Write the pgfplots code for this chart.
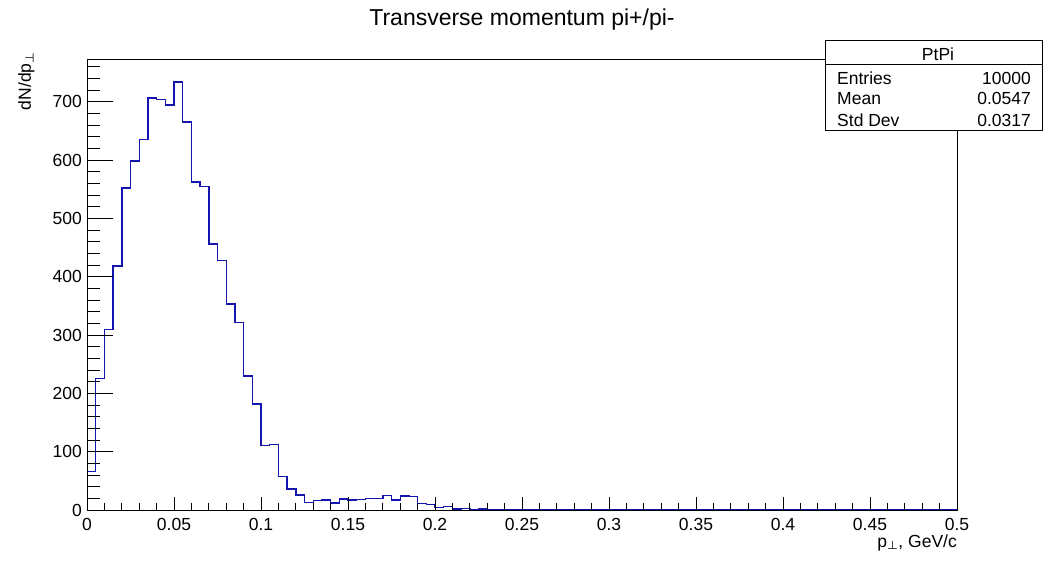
\documentclass[border=0pt]{standalone}
\usepackage{amsmath}
\usepackage{fontspec}
\setmainfont{Liberation Sans}
\usepackage{pgfplots}
\pgfplotsset{compat=1.18}
\definecolor{histblue}{RGB}{20,20,175}
\newcommand{\lab}{\fontsize{17.5}{20}\selectfont}

\pgfplotsset{rootframe/.style={
  at={(87pt,50pt)}, anchor=south west,
  scale only axis, width=870pt, height=450pt,
  xmin=0, xmax=0.5, ymin=0, ymax=771.5,
  tick align=inside,
  tick style={black, line width=1pt},
  axis line style={line width=1pt},
  ticklabel style={font=\lab},
  /pgf/number format/assume math mode=true,
}}

\begin{document}
\begin{tikzpicture}
\useasboundingbox (0pt,0pt) rectangle (1043pt,560pt);

% histogram, frame and x ticks
\begin{axis}[rootframe,
  axis on top,
  xtick={0,0.05,0.1,0.15,0.2,0.25,0.3,0.35,0.4,0.45,0.5},
  xticklabels={0,0.05,0.1,0.15,0.2,0.25,0.3,0.35,0.4,0.45,0.5},
  minor x tick num=4,
  xtick pos=bottom,
  ytick=\empty,
  major tick length=13pt, minor tick length=7pt,
  xticklabel style={anchor=north, inner sep=0pt, yshift=-8pt},
  title={Transverse momentum pi+/pi-},
  title style={font=\fontsize{23}{26}\selectfont, at={(axis description cs:0.5,1)}, anchor=base, inner sep=0pt, yshift=28pt},
  xlabel={p$_{\boldsymbol{\perp}}$, GeV/c},
  xlabel style={font=\lab, at={(axis description cs:1,0)}, anchor=base east, inner sep=0pt, yshift=-37pt},
  ylabel={dN/dp$_{\boldsymbol{\perp}}$},
  ylabel style={font=\lab, at={(axis description cs:-0.0644,1.0178)}, anchor=base east, inner sep=0pt},
]
\addplot[const plot, color=histblue, line width=1.4pt, line join=miter] coordinates {
  (0,0)(0,66)(0.005,225)(0.01,309)(0.015,418)(0.02,552)(0.025,598)(0.03,635)
  (0.035,706)(0.04,704)(0.045,694)(0.05,734)(0.055,665)(0.06,562)(0.065,555)
  (0.07,456)(0.075,428)(0.08,353)(0.085,321)(0.09,230)(0.095,182)(0.1,111)
  (0.105,112)(0.11,57)(0.115,36)(0.12,26)(0.125,13)(0.13,16)(0.135,17)
  (0.14,12)(0.145,19)(0.15,17)(0.155,18)(0.16,20)(0.165,20)(0.17,25)
  (0.175,17)(0.18,24)(0.185,23)(0.19,11)(0.195,9)(0.2,4)(0.205,6)
  (0.21,2)(0.215,3)(0.22,0)(0.225,2)(0.23,1)(0.235,0)(0.5,0)};
\end{axis}

% y ticks (longer, as ROOT draws them)
\begin{axis}[rootframe,
  axis line style={draw=none},
  xtick=\empty,
  ytick={0,100,200,300,400,500,600,700},
  yticklabels={0,100,200,300,400,500,600,700},
  minor ytick={20,40,...,760},
  ytick pos=left,
  major tick length=26pt, minor tick length=13pt,
  yticklabel style={anchor=east, inner sep=0pt, xshift=-5pt},
]
\end{axis}

% statistics box
\draw[line width=1pt, fill=white] (825pt,429pt) rectangle (1042pt,519pt);
\draw[line width=1pt] (825pt,495pt) -- (1042pt,495pt);
\node[font=\lab, anchor=base, inner sep=0pt] at (938pt,499.5pt) {PtPi};
\node[font=\lab, anchor=base west, inner sep=0pt] at (837pt,475.7pt) {Entries};
\node[font=\lab, anchor=base east, inner sep=0pt] at (1031pt,475.7pt) {10000};
\node[font=\lab, anchor=base west, inner sep=0pt] at (837pt,455pt) {Mean};
\node[font=\lab, anchor=base east, inner sep=0pt] at (1031pt,455pt) {0.0547};
\node[font=\lab, anchor=base west, inner sep=0pt] at (837pt,433.6pt) {Std Dev};
\node[font=\lab, anchor=base east, inner sep=0pt] at (1031pt,433.6pt) {0.0317};
\end{tikzpicture}
\end{document}
